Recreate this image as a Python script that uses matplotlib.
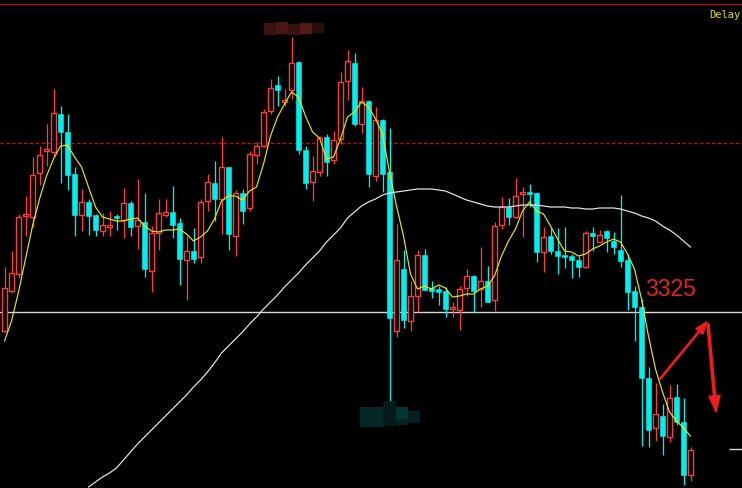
import matplotlib
matplotlib.use("Agg")
import matplotlib.pyplot as plt
from matplotlib.patches import Rectangle

# daily candles, oldest first
opens = [3306, 3346, 3363, 3421, 3420, 3464, 3486, 3485, 3523, 3505,
         3463, 3422, 3435, 3422, 3406, 3410, 3421, 3417, 3434, 3411,
         3415, 3366, 3404, 3422, 3425, 3414, 3377, 3386, 3380, 3436,
         3454, 3438, 3470, 3401, 3444, 3429, 3482, 3491, 3526, 3552,
         3535, 3547, 3575, 3487, 3455, 3465, 3500, 3477, 3498, 3556,
         3574, 3513, 3536, 3461, 3517, 3465, 3306, 3368, 3316, 3341,
         3382, 3349, 3348, 3346, 3328, 3327, 3349, 3361, 3348, 3356,
         3337, 3412, 3430, 3420, 3443, 3445, 3444, 3385, 3401, 3386,
         3382, 3381, 3377, 3370, 3404, 3395, 3406, 3396, 3387, 3377,
         3346, 3330, 3259, 3209, 3221, 3200, 3240, 3215, 3162]
closes = [3349, 3364, 3420, 3422, 3462, 3482, 3488, 3524, 3505, 3462,
          3422, 3435, 3421, 3407, 3412, 3411, 3419, 3434, 3410, 3417,
          3368, 3404, 3424, 3425, 3412, 3378, 3386, 3378, 3435, 3455,
          3438, 3470, 3403, 3444, 3426, 3483, 3491, 3525, 3549, 3547,
          3537, 3574, 3487, 3454, 3466, 3499, 3475, 3497, 3555, 3576,
          3513, 3536, 3463, 3517, 3463, 3319, 3377, 3317, 3341, 3382,
          3347, 3346, 3345, 3328, 3330, 3348, 3361, 3346, 3356, 3335,
          3411, 3430, 3420, 3441, 3445, 3443, 3385, 3400, 3386, 3381,
          3380, 3377, 3370, 3404, 3401, 3402, 3399, 3390, 3376, 3345,
          3330, 3259, 3207, 3223, 3201, 3239, 3215, 3162, 3187]
highs = [3370, 3386, 3423, 3441, 3480, 3491, 3513, 3548, 3531, 3523,
         3470, 3448, 3438, 3423, 3424, 3426, 3423, 3449, 3436, 3458,
         3444, 3411, 3438, 3438, 3451, 3419, 3401, 3409, 3438, 3463,
         3476, 3500, 3470, 3447, 3448, 3486, 3495, 3528, 3558, 3561,
         3548, 3600, 3576, 3491, 3481, 3501, 3503, 3506, 3565, 3587,
         3584, 3550, 3537, 3530, 3518, 3509, 3413, 3387, 3356, 3387,
         3388, 3356, 3351, 3350, 3335, 3351, 3368, 3362, 3390, 3371,
         3415, 3440, 3439, 3459, 3450, 3453, 3445, 3410, 3409, 3409,
         3410, 3383, 3381, 3406, 3410, 3407, 3407, 3405, 3442, 3383,
         3351, 3338, 3270, 3254, 3233, 3252, 3253, 3239, 3190]
lows = [3305, 3344, 3359, 3401, 3410, 3452, 3471, 3480, 3454, 3447,
        3401, 3406, 3402, 3401, 3401, 3401, 3407, 3399, 3401, 3388,
        3360, 3345, 3387, 3420, 3399, 3352, 3337, 3374, 3374, 3426,
        3416, 3403, 3387, 3381, 3413, 3426, 3473, 3490, 3523, 3531,
        3531, 3538, 3483, 3448, 3436, 3461, 3461, 3473, 3493, 3537,
        3511, 3504, 3450, 3456, 3445, 3236, 3300, 3309, 3306, 3325,
        3346, 3339, 3332, 3320, 3320, 3307, 3341, 3325, 3330, 3335,
        3326, 3408, 3412, 3419, 3400, 3430, 3375, 3365, 3383, 3363,
        3369, 3359, 3360, 3369, 3386, 3395, 3385, 3383, 3370, 3327,
        3296, 3191, 3190, 3196, 3182, 3195, 3212, 3152, 3156]

# short moving average (yellow), one value per candle
ma_short = [3296, 3316, 3345, 3378, 3411, 3438, 3461, 3478, 3491, 3492,
            3480, 3470, 3450, 3430, 3420, 3418, 3416, 3416, 3418, 3419,
            3411, 3406, 3405, 3407, 3407, 3408, 3403, 3396, 3400, 3406,
            3418, 3436, 3441, 3441, 3437, 3446, 3450, 3473, 3501, 3520,
            3533, 3545, 3540, 3521, 3505, 3499, 3478, 3480, 3498, 3520,
            3525, 3535, 3530, 3518, 3503, 3465, 3431, 3401, 3363, 3348,
            3351, 3348, 3352, 3349, 3340, 3341, 3343, 3343, 3348, 3351,
            3361, 3381, 3396, 3408, 3426, 3435, 3426, 3423, 3411, 3398,
            3386, 3385, 3381, 3383, 3388, 3391, 3395, 3398, 3395, 3383,
            3368, 3338, 3301, 3268, 3245, 3225, 3216, 3209, 3201]

# long moving average (white), visible from candle 12 on
ma_long_start = 12
ma_long = [3150, 3155, 3160, 3164, 3169, 3177, 3185, 3193, 3200, 3207,
           3214, 3221, 3228, 3235, 3242, 3250, 3257, 3265, 3274, 3284,
           3291, 3298, 3305, 3313, 3320, 3328, 3335, 3342, 3350, 3357,
           3364, 3372, 3379, 3386, 3395, 3402, 3409, 3419, 3425, 3431,
           3435, 3438, 3442, 3444, 3445, 3446, 3447, 3448, 3448, 3448,
           3447, 3446, 3443, 3440, 3437, 3435, 3433, 3431, 3430, 3430,
           3430, 3431, 3432, 3432, 3432, 3431, 3430, 3430, 3430, 3429,
           3429, 3428, 3428, 3429, 3429, 3429, 3428, 3426, 3424, 3421,
           3419, 3416, 3411, 3407, 3402, 3396, 3390]

level_top = 3633
level_prev = 3494
level_support = 3325
level_tick = 3188

UP = "#ff3c3c"
DOWN = "#00efef"
PX = 0.72  # one pixel in points

W, H = 742, 489
fig = plt.figure(figsize=(W / 100, H / 100), dpi=100, facecolor="black")
ax = fig.add_axes([0, 0, 1, 1])
ax.set_facecolor("black")
ax.set_xlim(-4.5 / 7, (W - 4.5) / 7)
ax.set_ylim(3638 - H, 3638)
ax.axis("off")

ax.axhline(level_top, color="#b81010", lw=PX * 1.3)
ax.axhline(level_prev, color="#c01010", lw=PX * 1.4, dashes=(2.4, 1.8))
ax.axhline(level_support, color="#d8d8d8", lw=PX * 1.4)
ax.hlines(level_tick, 103.5, 106, color="#d8d8d8", lw=PX * 1.4)

bw = 0.68
for i, (o, c, h, l) in enumerate(zip(opens, closes, highs, lows)):
    top, bot = max(o, c), min(o, c)
    if c >= o:
        ax.vlines(i, top, h, color=UP, lw=PX * 1.3)
        ax.vlines(i, l, bot, color=UP, lw=PX * 1.3)
        ax.add_patch(Rectangle((i - bw / 2, bot), bw, max(top - bot, 1.5),
                               facecolor="black", edgecolor=UP,
                               lw=PX * 1.4, zorder=3))
    else:
        ax.vlines(i, l, h, color=DOWN, lw=PX * 1.3)
        ax.add_patch(Rectangle((i - bw / 2, bot), bw, max(top - bot, 1.5),
                               facecolor=DOWN, edgecolor=DOWN,
                               lw=PX * 0.6, zorder=3))

ax.plot(range(len(ma_short)), ma_short, color="#e6e600", lw=PX * 1.2,
        zorder=4)
ax.plot(range(ma_long_start, ma_long_start + len(ma_long)), ma_long,
        color="#e8e8e8", lw=PX * 1.2, zorder=4)

# overlay in screen pixels for the annotations
ov = fig.add_axes([0, 0, 1, 1])
ov.set_xlim(0, W)
ov.set_ylim(H, 0)
ov.axis("off")
ov.patch.set_alpha(0)

for x, y, w, h, col in [(264, 24, 12, 12, "#3a1212"), (276, 23, 12, 12, "#4a1616"),
                        (288, 25, 12, 11, "#381111"), (300, 24, 12, 11, "#541a1a"),
                        (312, 24, 12, 10, "#2a0d0d")]:
    ov.add_patch(Rectangle((x, y), w, h, facecolor=col, edgecolor="none"))
for x, y, w, h, col in [(360, 408, 23, 20, "#042828"), (383, 402, 13, 25, "#021a1a"),
                        (396, 408, 12, 12, "#043636"), (396, 420, 12, 6, "#032222"),
                        (408, 412, 12, 12, "#031f1f")]:
    ov.add_patch(Rectangle((x, y), w, h, facecolor=col, edgecolor="none"))

ov.text(645, 289, "3325", color="#e42222", fontsize=16.5,
        family="Liberation Sans", ha="left", va="center")
ov.text(740, 15, "Delay", color="#e0e000", fontsize=7.5,
        family="DejaVu Sans Mono", ha="right", va="center")

ov.annotate("", xy=(707, 323), xytext=(660, 380),
            arrowprops=dict(arrowstyle="simple,head_length=1.1,head_width=0.8,tail_width=0.12",
                            mutation_scale=8, color="#ee1c1c", shrinkA=0, shrinkB=0))
ov.annotate("", xy=(716, 413), xytext=(708, 325),
            arrowprops=dict(arrowstyle="simple,head_length=1.3,head_width=0.9,tail_width=0.18",
                            mutation_scale=9, color="#ee1c1c", shrinkA=0, shrinkB=0))

fig.savefig("out.png", dpi=100, facecolor="black")
